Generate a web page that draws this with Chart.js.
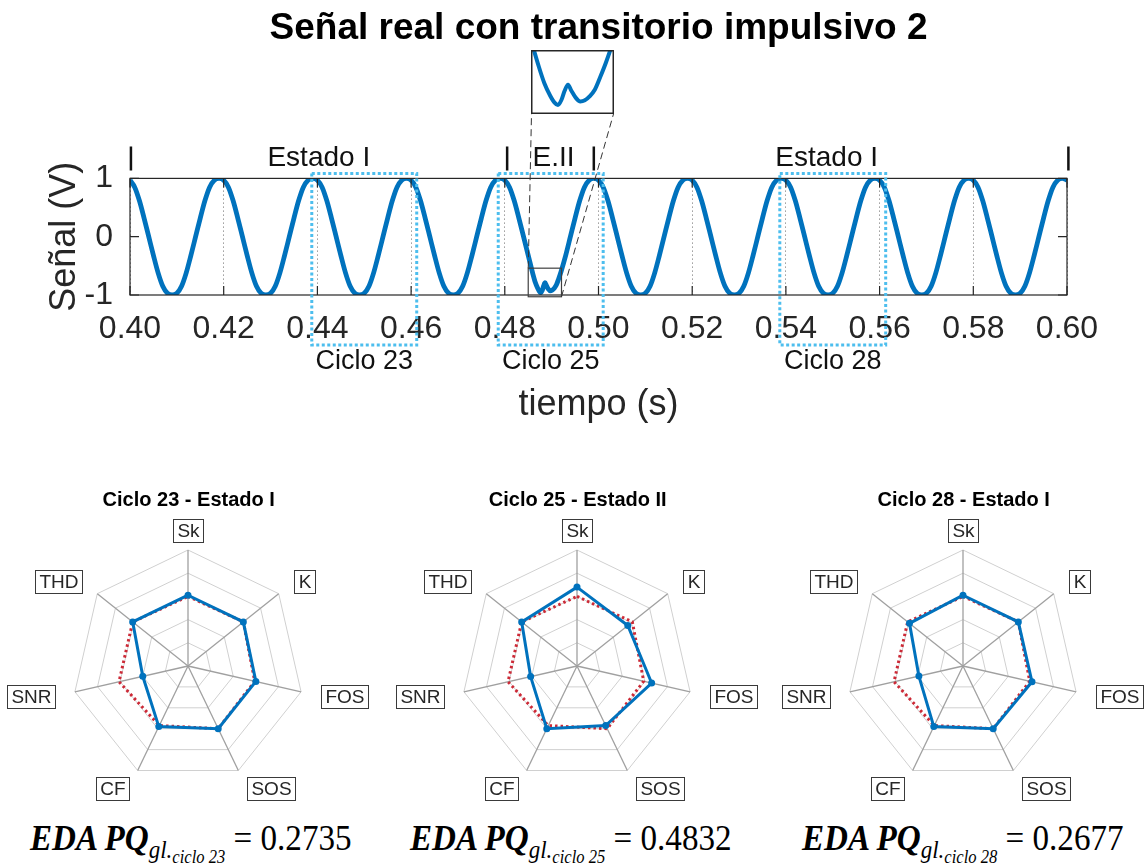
<!DOCTYPE html>
<html><head><meta charset="utf-8">
<script src="https://cdn.jsdelivr.net/npm/chart.js@4.4.1/dist/chart.umd.min.js"></script>
<style>
html,body{margin:0;padding:0;background:#fff;width:1146px;height:864px;overflow:hidden;position:relative;font-family:'Liberation Sans',Arial,sans-serif}
canvas{position:absolute;display:block}
.eq{position:absolute;top:816px;font-family:'Liberation Serif','Times New Roman',serif;font-size:36px;line-height:44px;white-space:nowrap;color:#000;transform:scaleX(0.92);transform-origin:0 0}
.eq .b{font-weight:bold;font-style:italic}
.eq .s1{font-style:italic;font-size:25px;position:relative;top:8px}
.eq .s2{font-size:18px;position:relative;top:5px}
</style></head><body>
<canvas id="main" width="1146" height="440" style="left:0;top:0"></canvas>
<canvas id="inset" width="83" height="64" style="left:531px;top:50px"></canvas>
<canvas id="r1" width="370" height="330" style="left:0;top:480px"></canvas>
<canvas id="r2" width="370" height="330" style="left:389px;top:480px"></canvas>
<canvas id="r3" width="370" height="330" style="left:775px;top:480px"></canvas>
<div id="eqs"></div>
<script>
// ---------- DATA ----------
const tituloPrincipal = 'Señal real con transitorio impulsivo 2';
const xTicks = [0.40,0.42,0.44,0.46,0.48,0.50,0.52,0.54,0.56,0.58,0.60];
const yTicks = [-1,0,1];

const tiempo = [
0.400,0.401,0.402,0.403,0.404,0.405,0.406,0.407,0.408,0.409,0.410,0.411,0.412,0.413,0.414,0.415,0.416,0.417,0.418,0.419,
0.420,0.421,0.422,0.423,0.424,0.425,0.426,0.427,0.428,0.429,0.430,0.431,0.432,0.433,0.434,0.435,0.436,0.437,0.438,0.439,
0.440,0.441,0.442,0.443,0.444,0.445,0.446,0.447,0.448,0.449,0.450,0.451,0.452,0.453,0.454,0.455,0.456,0.457,0.458,0.459,
0.460,0.461,0.462,0.463,0.464,0.465,0.466,0.467,0.468,0.469,0.470,0.471,0.472,0.473,0.474,0.475,0.476,0.477,0.478,0.479,
0.480,0.481,0.482,0.483,0.484,0.485,0.4860,0.4865,0.4870,0.4874,0.4877,0.4880,0.4883,0.4886,0.4889,0.4893,0.4897,0.4901,0.4905,0.4910,0.4915,0.4920,0.493,0.494,0.495,0.496,0.497,0.498,0.499,
0.500,0.501,0.502,0.503,0.504,0.505,0.506,0.507,0.508,0.509,0.510,0.511,0.512,0.513,0.514,0.515,0.516,0.517,0.518,0.519,
0.520,0.521,0.522,0.523,0.524,0.525,0.526,0.527,0.528,0.529,0.530,0.531,0.532,0.533,0.534,0.535,0.536,0.537,0.538,0.539,
0.540,0.541,0.542,0.543,0.544,0.545,0.546,0.547,0.548,0.549,0.550,0.551,0.552,0.553,0.554,0.555,0.556,0.557,0.558,0.559,
0.560,0.561,0.562,0.563,0.564,0.565,0.566,0.567,0.568,0.569,0.570,0.571,0.572,0.573,0.574,0.575,0.576,0.577,0.578,0.579,
0.580,0.581,0.582,0.583,0.584,0.585,0.586,0.587,0.588,0.589,0.590,0.591,0.592,0.593,0.594,0.595,0.596,0.597,0.598,0.599,
0.600];

const senal = [
0.97,0.85,0.62,0.32,0.00,-0.32,-0.62,-0.85,-0.97,-1.00,-0.97,-0.85,-0.62,-0.32,0.00,0.32,0.62,0.85,0.97,1.00,
0.97,0.85,0.62,0.32,0.00,-0.32,-0.62,-0.85,-0.97,-1.00,-0.97,-0.85,-0.62,-0.32,0.00,0.32,0.62,0.85,0.97,1.00,
0.97,0.85,0.62,0.32,0.00,-0.32,-0.62,-0.85,-0.97,-1.00,-0.97,-0.85,-0.62,-0.32,0.00,0.32,0.62,0.85,0.97,1.00,
0.97,0.85,0.62,0.32,0.00,-0.32,-0.62,-0.85,-0.97,-1.00,-0.97,-0.85,-0.62,-0.32,0.00,0.32,0.62,0.85,0.97,1.00,
0.97,0.85,0.62,0.32,0.00,-0.32,-0.64,-0.78,-0.88,-0.94,-0.96,-0.92,-0.84,-0.79,-0.84,-0.90,-0.93,-0.92,-0.89,-0.83,-0.72,-0.60,-0.32,0.00,0.32,0.62,0.85,0.97,1.00,
0.97,0.85,0.62,0.32,0.00,-0.32,-0.62,-0.85,-0.97,-1.00,-0.97,-0.85,-0.62,-0.32,0.00,0.32,0.62,0.85,0.97,1.00,
0.97,0.85,0.62,0.32,0.00,-0.32,-0.62,-0.85,-0.97,-1.00,-0.97,-0.85,-0.62,-0.32,0.00,0.32,0.62,0.85,0.97,1.00,
0.97,0.85,0.62,0.32,0.00,-0.32,-0.62,-0.85,-0.97,-1.00,-0.97,-0.85,-0.62,-0.32,0.00,0.32,0.62,0.85,0.97,1.00,
0.97,0.85,0.62,0.32,0.00,-0.32,-0.62,-0.85,-0.97,-1.00,-0.97,-0.85,-0.62,-0.32,0.00,0.32,0.62,0.85,0.97,1.00,
0.97,0.85,0.62,0.32,0.00,-0.32,-0.62,-0.85,-0.97,-1.00,-0.97,-0.85,-0.62,-0.32,0.00,0.32,0.62,0.85,0.97,1.00,
0.97];

// cycles highlighted (start, end in s) and their labels
const ciclosInicio = [0.4388, 0.4786, 0.5387];
const ciclosFin    = [0.4612, 0.5010, 0.5613];
const ciclosTexto  = ['Ciclo 23', 'Ciclo 25', 'Ciclo 28'];
// state labels
const estadosTexto = ['Estado I', 'E.II', 'Estado I'];
const estadosCentro = [0.4403, 0.4904, 0.5487];
const estadosMarcas = [0.4002, 0.4805, 0.4990, 0.6003];
// zoom window (time, volts)
const zoomT = [0.4850, 0.4921];
const zoomV = [-1.03, -0.54];
const insetT = [0.4853, 0.4927];
const insetV = [-1.035, -0.50];

// radar data
const ejes = ['Sk','K','FOS','SOS','CF','SNR','THD'];
const anillos = [0, 0.2, 0.4, 0.6, 0.8, 1.0];
const referencia = [0.60, 0.61, 0.59, 0.60, 0.57, 0.61, 0.61];
const ciclo23 = [0.61, 0.61, 0.60, 0.60, 0.58, 0.40, 0.61];
const ciclo25 = [0.68, 0.56, 0.66, 0.57, 0.60, 0.41, 0.61];
const ciclo28 = [0.61, 0.61, 0.61, 0.60, 0.58, 0.39, 0.59];
const radarTitulos = ['Ciclo 23 - Estado I', 'Ciclo 25 - Estado II', 'Ciclo 28 - Estado I'];
const edaCiclos = ['23', '25', '28'];
const edaValores = ['0.2735', '0.4832', '0.2677'];

// ---------- STYLE ----------
const FONT = "'Liberation Sans', Arial, sans-serif";
const AZUL = '#0072BD';
const CIAN = '#4DBEEE';
const ROJO = '#CC2936';
const GRIS = '#262626';

const puntos = tiempo.map((t, i) => ({x: t, y: senal[i]}));

// ---------- MAIN CHART ----------
const anotaciones = {
  id: 'anotaciones',
  afterDatasetsDraw(chart) {
    const {ctx, chartArea: a, scales: {x, y}} = chart;
    ctx.save();
    ctx.setLineDash([]);
    ctx.strokeStyle = GRIS; ctx.lineWidth = 1.2;
    ctx.strokeRect(a.left, a.top, a.right - a.left, a.bottom - a.top);
    ctx.beginPath();
    xTicks.forEach(v => { const px = x.getPixelForValue(v);
      ctx.moveTo(px, a.bottom); ctx.lineTo(px, a.bottom - 9);
      ctx.moveTo(px, a.top); ctx.lineTo(px, a.top + 9); });
    yTicks.forEach(v => { const py = y.getPixelForValue(v);
      ctx.moveTo(a.left, py); ctx.lineTo(a.left + 9, py);
      ctx.moveTo(a.right, py); ctx.lineTo(a.right - 9, py); });
    ctx.stroke();

    const zx1 = x.getPixelForValue(zoomT[0]), zx2 = x.getPixelForValue(zoomT[1]);
    const zy1 = y.getPixelForValue(zoomV[1]), zy2 = y.getPixelForValue(zoomV[0]);
    ctx.strokeStyle = '#404040'; ctx.lineWidth = 1.2;
    ctx.strokeRect(zx1, zy1, zx2 - zx1, zy2 - zy1);
    ctx.setLineDash([7, 4]); ctx.lineWidth = 1; ctx.strokeStyle = '#333';
    ctx.beginPath();
    ctx.moveTo(zx1, zy1); ctx.lineTo(531.5, 114);
    ctx.moveTo(zx2, zy2); ctx.lineTo(613.5, 114);
    ctx.stroke();

    ctx.setLineDash([3, 2.5]); ctx.lineWidth = 3; ctx.strokeStyle = CIAN;
    ciclosInicio.forEach((t0, i) => {
      const x1 = x.getPixelForValue(t0), x2 = x.getPixelForValue(ciclosFin[i]);
      const top = a.top - 5, bot = a.bottom + 50;
      ctx.strokeRect(x1, top, x2 - x1, bot - top);
    });
    ctx.setLineDash([]);
    ctx.fillStyle = '#111'; ctx.font = '27px ' + FONT; ctx.textAlign = 'center'; ctx.textBaseline = 'middle';
    ciclosInicio.forEach((t0, i) => {
      const xm = (x.getPixelForValue(t0) + x.getPixelForValue(ciclosFin[i])) / 2;
      ctx.fillText(ciclosTexto[i], xm, a.bottom + 67);
    });

    ctx.font = '28px ' + FONT;
    estadosTexto.forEach((s, i) => ctx.fillText(s, x.getPixelForValue(estadosCentro[i]), a.top - 20));
    ctx.strokeStyle = '#111'; ctx.lineWidth = 2.5;
    ctx.beginPath();
    estadosMarcas.forEach(t => { const px = x.getPixelForValue(t);
      ctx.moveTo(px, a.top - 32); ctx.lineTo(px, a.top - 8); });
    ctx.stroke();
    ctx.restore();
  }
};

new Chart(document.getElementById('main'), {
  type: 'line',
  data: { datasets: [{ data: puntos, borderColor: AZUL, borderWidth: 4.8, pointRadius: 0,
    cubicInterpolationMode: 'monotone', fill: false }] },
  options: {
    responsive: false, animation: false, events: [],
    layout: { padding: { left: 0, right: 79, top: 0, bottom: 0 } },
    plugins: {
      legend: { display: false }, tooltip: { enabled: false },
      title: { display: true, text: tituloPrincipal, fullSize: false, color: '#000',
        font: { family: FONT, size: 37, weight: 'bold' }, padding: { top: 7, bottom: 127 } }
    },
    scales: {
      x: { type: 'linear', min: 0.40, max: 0.60,
        afterBuildTicks: s => { s.ticks = xTicks.map(v => ({ value: v })); },
        afterFit: s => { s.height = 145; },
        ticks: { callback: v => Number(v).toFixed(2), font: { family: FONT, size: 32 }, color: GRIS,
          padding: 15, maxRotation: 0, autoSkip: false },
        grid: { color: '#9a9a9a', lineWidth: 1, drawTicks: false },
        border: { display: false, dash: [1.5, 2.5] },
        title: { display: true, text: 'tiempo (s)', color: GRIS, font: { family: FONT, size: 36 },
          padding: { top: 0, bottom: 13 } } },
      y: { min: -1, max: 1,
        afterBuildTicks: s => { s.ticks = yTicks.map(v => ({ value: v })); },
        afterFit: s => { s.width = 130; },
        ticks: { callback: v => String(v), font: { family: FONT, size: 32 }, color: GRIS, padding: 17 },
        grid: { display: false, drawTicks: false }, border: { display: false },
        title: { display: true, text: 'Señal (V)', color: GRIS, font: { family: FONT, size: 36 },
          padding: { top: 43, bottom: 0 } } }
    }
  },
  plugins: [anotaciones]
});

// ---------- INSET ----------
const marcoInset = {
  id: 'marcoInset',
  afterDraw(chart) {
    const ctx = chart.ctx;
    ctx.save(); ctx.strokeStyle = GRIS; ctx.lineWidth = 1.5;
    ctx.strokeRect(0.75, 0.75, chart.width - 1.5, chart.height - 1.5);
    ctx.restore();
  }
};
new Chart(document.getElementById('inset'), {
  type: 'line',
  data: { datasets: [{ data: puntos, borderColor: AZUL, borderWidth: 4, pointRadius: 0,
    cubicInterpolationMode: 'monotone', fill: false, clip: 0 }] },
  options: {
    responsive: false, animation: false, events: [],
    layout: { padding: 0 },
    plugins: { legend: { display: false }, tooltip: { enabled: false } },
    scales: {
      x: { type: 'linear', display: false, min: insetT[0], max: insetT[1] },
      y: { display: false, min: insetV[0], max: insetV[1] }
    }
  },
  plugins: [marcoInset]
});

// ---------- RADARS ----------
const etiquetasRadar = {
  id: 'etiquetasRadar',
  afterDraw(chart) {
    const s = chart.scales.r, ctx = chart.ctx;
    ctx.save();
    ctx.font = '19px ' + FONT;
    ctx.textBaseline = 'middle';
    chart.data.labels.forEach((lab, i) => {
      const p = s.getPointPosition(i, s.drawingArea + 20);
      const dx = p.x - s.xCenter;
      const w = ctx.measureText(lab).width;
      const bw = Math.round(w + 8), bh = 23;
      let bx;
      if (Math.abs(dx) < 1) bx = p.x - bw / 2;
      else if (dx > 0) bx = p.x;
      else bx = p.x - bw;
      bx = Math.round(bx) + 0.5;
      const by = Math.round(p.y - bh / 2) + 0.5;
      ctx.fillStyle = '#fff'; ctx.fillRect(bx, by, bw, bh);
      ctx.strokeStyle = '#3a3a3a'; ctx.lineWidth = 1; ctx.strokeRect(bx, by, bw, bh);
      ctx.fillStyle = GRIS; ctx.textAlign = 'center';
      ctx.fillText(lab, bx + bw / 2, by + bh / 2 + 1);
    });
    ctx.restore();
  }
};

function radar(id, titulo, valores) {
  new Chart(document.getElementById(id), {
    type: 'radar',
    data: {
      labels: ejes,
      datasets: [
        { data: valores, borderColor: AZUL, backgroundColor: 'transparent', borderWidth: 3,
          pointRadius: 3.5, pointBackgroundColor: AZUL, pointBorderWidth: 0, fill: false },
        { data: referencia, borderColor: ROJO, backgroundColor: 'transparent', borderWidth: 3,
          borderDash: [2.5, 3], pointRadius: 0, fill: false }
      ]
    },
    options: {
      responsive: false, animation: false, events: [],
      layout: { padding: { left: 72, right: 64.6, top: 0, bottom: 26.6 } },
      plugins: {
        legend: { display: false }, tooltip: { enabled: false },
        title: { display: true, text: titulo, color: '#000', font: { family: FONT, size: 20, weight: 'bold' },
          padding: { top: 8, bottom: 38 } }
      },
      scales: {
        r: { min: 0, max: 1,
          afterBuildTicks: s => { s.ticks = anillos.map(v => ({ value: v })); },
          ticks: { display: false },
          grid: { color: '#d0d0d0', lineWidth: 1 },
          angleLines: { color: '#a0a0a0', lineWidth: 1.3 },
          pointLabels: { display: false } }
      }
    },
    plugins: [etiquetasRadar]
  });
}
radar('r1', radarTitulos[0], ciclo23);
radar('r2', radarTitulos[1], ciclo25);
radar('r3', radarTitulos[2], ciclo28);

// ---------- EQUATIONS ----------
const eqLeft = [30, 410, 802];
const cont = document.getElementById('eqs');
edaCiclos.forEach((c, i) => {
  const d = document.createElement('div');
  d.className = 'eq'; d.style.left = eqLeft[i] + 'px';
  const b = document.createElement('span'); b.className = 'b'; b.textContent = 'EDA PQ';
  const s1 = document.createElement('span'); s1.className = 's1'; s1.textContent = 'gl.';
  const s2 = document.createElement('span'); s2.className = 's2'; s2.textContent = 'ciclo ' + c;
  s1.appendChild(s2);
  const r = document.createElement('span'); r.textContent = ' = ' + edaValores[i];
  d.appendChild(b); d.appendChild(s1); d.appendChild(r);
  cont.appendChild(d);
});
</script>
</body></html>
